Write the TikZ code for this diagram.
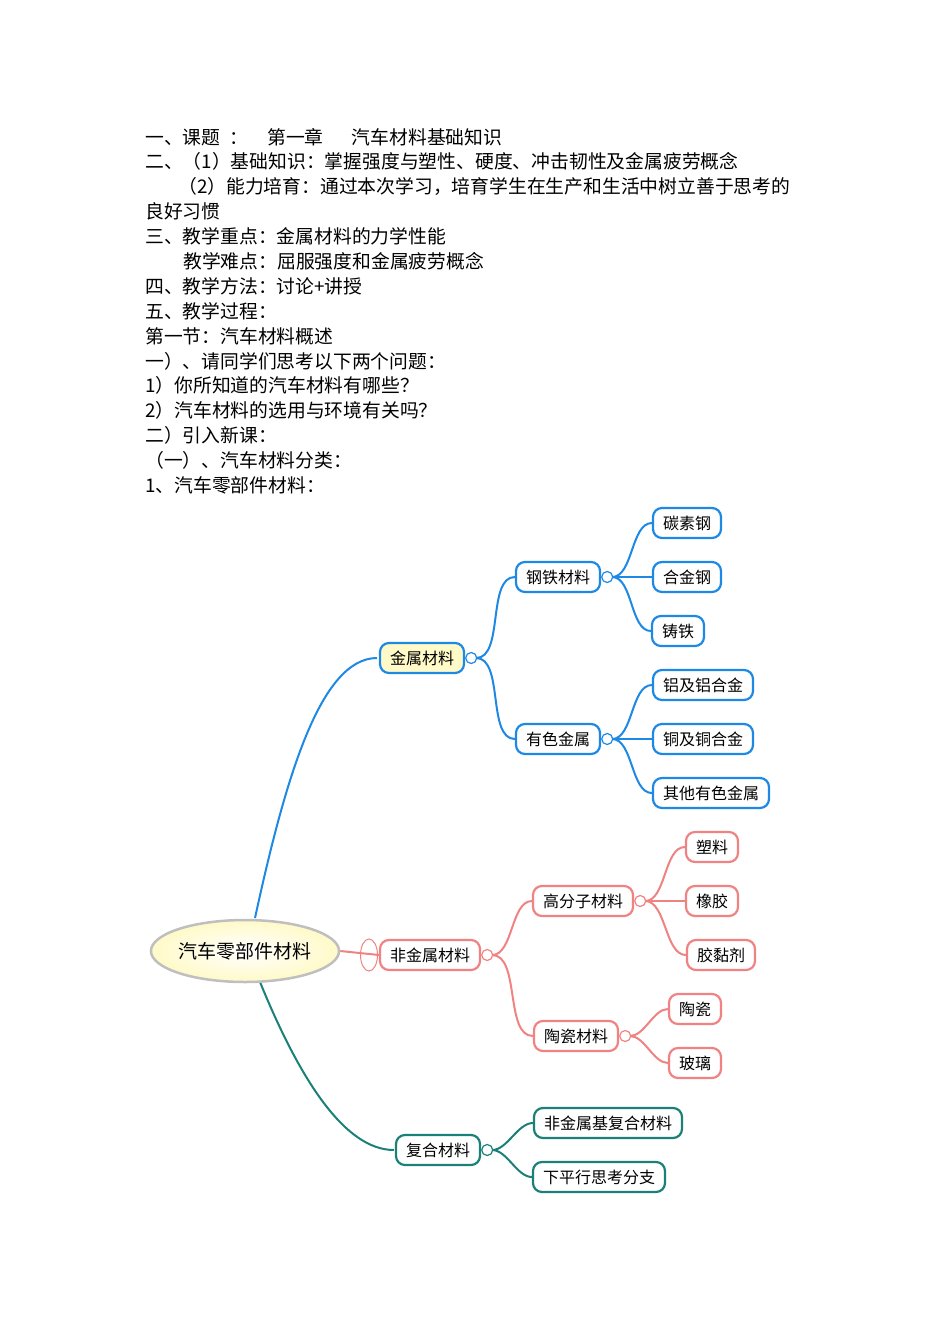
\documentclass[tikz,border=0pt]{standalone}
\usepackage{fontspec}
\usetikzlibrary{shapes.geometric}
\setmainfont{Noto Sans CJK SC}
\definecolor{mblue}{RGB}{30,136,229}
\definecolor{mpink}{RGB}{240,130,130}
\definecolor{mteal}{RGB}{26,128,120}
\definecolor{myel}{RGB}{255,250,200}
\begin{document}
\begin{tikzpicture}[x=1pt,y=-1pt,
  tl/.style={anchor=west,inner sep=0pt,font=\fontsize{18.8}{20}\selectfont},
  box/.style={draw=#1,line width=2.2pt,rounded corners=9pt,fill=white,minimum height=30pt,inner xsep=10pt,inner ysep=0pt,font=\fontsize{16}{17}\selectfont},
  knob/.style={draw=#1,line width=1.2pt,circle,fill=white,inner sep=0pt,minimum size=11pt},
  lk/.style={draw=#1,line width=2pt},
  ]
\useasboundingbox (0,0) rectangle (950,1344);
% text
\node[tl] (t1) at (145,137) {一、课题\hspace{0.5em}：\hspace{1em}第一章\hspace{1.5em}汽车材料基础知识};
\node[tl] (t2) at (145,161) {二、（1）基础知识：掌握强度与塑性、硬度、冲击韧性及金属疲劳概念};
\node[tl] (t3) at (178,186) {（2）能力培育：通过本次学习，培育学生在生产和生活中树立善于思考的};
\node[tl] (t4) at (145,211) {良好习惯};
\node[tl] (t5) at (145,236) {三、教学重点：金属材料的力学性能};
\node[tl] (t6) at (183,261) {教学难点：屈服强度和金属疲劳概念};
\node[tl] (t7) at (145,286) {四、教学方法：讨论+讲授};
\node[tl] (t8) at (145,311) {五、教学过程：};
\node[tl] (t9) at (145,336) {第一节：汽车材料概述};
\node[tl] (t10) at (145,361) {一）、请同学们思考以下两个问题：};
\node[tl] (t11) at (145,385) {1）你所知道的汽车材料有哪些？};
\node[tl] (t12) at (145,410) {2）汽车材料的选用与环境有关吗？};
\node[tl] (t13) at (145,435) {二）引入新课：};
\node[tl] (t14) at (145,460) {（一）、汽车材料分类：};
\node[tl] (t15) at (145,485) {1、汽车零部件材料：};
% links from root first (behind)
\coordinate (r1) at (255,918);
\coordinate (r2) at (260,982);
\coordinate (jw) at (377,658);
\coordinate (fw) at (394,1150);
\draw[line width=2pt,draw=mblue] (r1) .. controls (285,780) and (320,658) .. (jw);
\draw[line width=2pt,draw=mteal] (r2) .. controls (300,1080) and (345,1150) .. (fw);
% root
\node[ellipse,draw=gray!50,line width=2.5pt,inner color=white,outer color=myel,minimum width=170pt,minimum height=62pt,inner sep=0pt,font=\fontsize{19}{20}\selectfont] (root) at (245,951) {汽车零部件材料};
% level 1
\node[box=mblue,fill=myel] (jin) at (422,658) {金属材料};
\node[box=mpink] (fei) at (430,955) {非金属材料};
\node[box=mteal] (fu) at (438,1150) {复合材料};
\draw[lk=mpink] (root.east) -- (fei.west);
\node[ellipse,draw=mpink,line width=1pt,minimum width=17pt,minimum height=32pt,inner sep=0pt] (fe) at (369,955) {};
% level 2
\node[box=mblue] (gang) at (558,577) {钢铁材料};
\node[box=mblue] (you) at (558,739) {有色金属};
\node[box=mpink] (gao) at (583,901) {高分子材料};
\node[box=mpink] (tao) at (576,1036) {陶瓷材料};
\node[box=mteal] (ff) at (608,1123) {非金属基复合材料};
\node[box=mteal] (xp) at (599,1177) {下平行思考分支};
% level 3
\node[box=mblue] (tan) at (687,523) {碳素钢};
\node[box=mblue] (he) at (687,577) {合金钢};
\node[box=mblue] (zhu) at (678,631) {铸铁};
\node[box=mblue] (lv) at (703,685) {铝及铝合金};
\node[box=mblue] (tong) at (703,739) {铜及铜合金};
\node[box=mblue] (qt) at (711,793) {其他有色金属};
\node[box=mpink] (su) at (712,847) {塑料};
\node[box=mpink] (xj) at (712,901) {橡胶};
\node[box=mpink] (jn) at (721,955) {胶黏剂};
\node[box=mpink] (tc) at (695,1009) {陶瓷};
\node[box=mpink] (bl) at (695,1063) {玻璃};
% child links
\foreach \p/\c in {jin/gang,jin/you,gang/tan,gang/he,gang/zhu,you/lv,you/tong,you/qt}
  \draw[lk=mblue] ([xshift=11pt]\p.east) to[out=0,in=180,looseness=0.8] (\c.west);
\foreach \p/\c in {fei/gao,fei/tao,gao/su,gao/xj,gao/jn,tao/tc,tao/bl}
  \draw[lk=mpink] ([xshift=11pt]\p.east) to[out=0,in=180,looseness=0.8] (\c.west);
\foreach \p/\c in {fu/ff,fu/xp}
  \draw[lk=mteal] ([xshift=11pt]\p.east) to[out=0,in=180,looseness=0.8] (\c.west);
% knobs
\node[knob=mblue,anchor=west] (kj) at (jin.east) {};
\node[knob=mblue,anchor=west] (kg) at (gang.east) {};
\node[knob=mblue,anchor=west] (ky) at (you.east) {};
\node[knob=mpink,anchor=west] (kf) at (fei.east) {};
\node[knob=mpink,anchor=west] (kgao) at (gao.east) {};
\node[knob=mpink,anchor=west] (kt) at (tao.east) {};
\node[knob=mteal,anchor=west] (kfu) at (fu.east) {};
\end{tikzpicture}
\end{document}
